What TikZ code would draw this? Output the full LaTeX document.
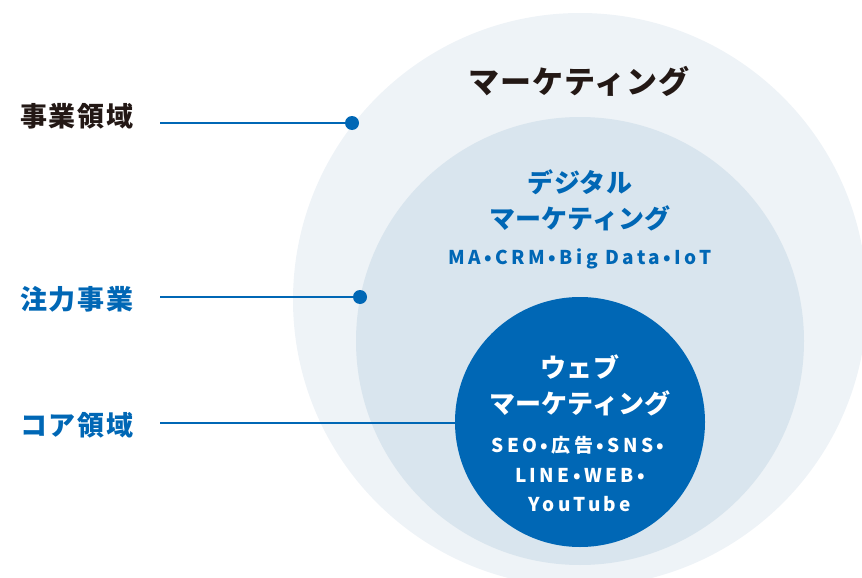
\documentclass[tikz,border=0pt]{standalone}
\usepackage{fontspec}
\setmainfont{Noto Sans CJK JP}
\definecolor{outerfill}{HTML}{EEF3F7}
\definecolor{midfill}{HTML}{D9E5EE}
\definecolor{brandblue}{HTML}{0067B5}
\definecolor{darktext}{HTML}{231815}
\tikzset{
  ring/.style={circle, draw=none, inner sep=0pt},
  sidelabel/.style={anchor=west, inner sep=0pt, font=\fontsize{27}{27}\selectfont\bfseries\addfontfeature{LetterSpace=6}},
  bigtitle/.style={inner sep=0pt, font=\fontsize{31}{31}\selectfont\bfseries\addfontfeature{LetterSpace=3}},
  midtitle/.style={inner sep=0pt, font=\fontsize{26}{26}\selectfont\bfseries\addfontfeature{LetterSpace=1}},
  detail/.style={inner sep=0pt, font=\fontsize{19}{19}\selectfont\bfseries\addfontfeature{LetterSpace=18}},
  leader/.style={draw=brandblue, line width=1.8pt},
  enddot/.style={circle, fill=brandblue, inner sep=0pt, minimum size=14pt},
}
\begin{document}
\begin{tikzpicture}[x=1pt,y=-1pt]
\useasboundingbox (0,0) rectangle (862,578);
\clip (0,0) rectangle (862,578);
% circles
\node[ring, fill=outerfill, minimum size=574pt] (outer) at (580,300) {};
\node[ring, fill=midfill, minimum size=448pt] (middle) at (580,341) {};
\node[ring, fill=brandblue, minimum size=250pt] (inner) at (580,422) {};
% titles
\node[bigtitle, text=darktext] (t1) at (579,81) {マーケティング};
\node[midtitle, text=brandblue] (t2a) at (580,182) {デジタル};
\node[midtitle, text=brandblue] (t2b) at (580,218) {マーケティング};
\node[detail, text=brandblue] (t2c) at (580,259) {MA•CRM•Big Data•IoT};
\node[midtitle, text=white] (t3a) at (580,367) {ウェブ};
\node[midtitle, text=white] (t3b) at (580,403) {マーケティング};
\node[detail, text=white] (t3c) at (578,445) {SEO•広告•SNS•};
\node[detail, text=white] (t3d) at (580,475) {LINE•WEB•};
\node[detail, text=white] (t3e) at (580,504) {YouTube};
% side labels
\node[sidelabel, text=darktext] (l1) at (20,116) {事業領域};
\node[sidelabel, text=brandblue] (l2) at (20,299) {注力事業};
\node[sidelabel, text=brandblue] (l3) at (20,425) {コア領域};
% leaders
\coordinate (s1) at (160,123);
\coordinate (s2) at (160,297);
\coordinate (s3) at (160,423);
\node[enddot] (d1) at (352,123) {};
\node[enddot] (d2) at (360,297) {};
\draw[leader] (s1) -- (d1.center);
\draw[leader] (s2) -- (d2.center);
\draw[leader] (s3) -- (s3 -| inner.west);
\end{tikzpicture}
\end{document}
